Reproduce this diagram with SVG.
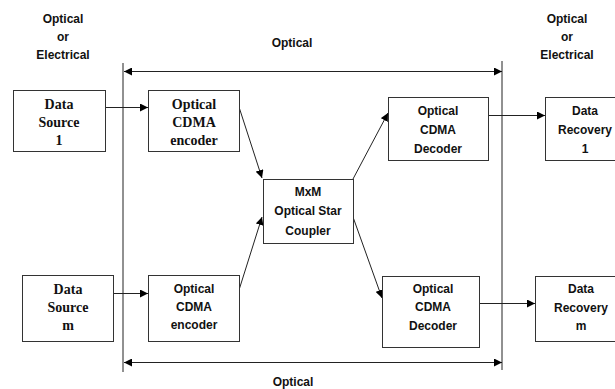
<svg xmlns="http://www.w3.org/2000/svg" width="615" height="389" viewBox="0 0 615 389">
<defs>
<marker id="ah" viewBox="0 0 10 10" refX="10" refY="5" markerWidth="8" markerHeight="8" markerUnits="userSpaceOnUse" orient="auto-start-reverse">
<path d="M0,0 L10,5 L0,10 z" fill="#000"/>
</marker>
<style>
.box{fill:#fff;stroke:#333;stroke-width:1}
.ln{fill:none;stroke:#222;stroke-width:1}
.ar{fill:none;stroke:#222;stroke-width:1;marker-end:url(#ah)}
.s{font-family:"Liberation Sans",Arial,sans-serif;font-weight:bold;font-size:12px;fill:#111;text-anchor:middle}
.r{font-family:"Liberation Serif","Times New Roman",serif;font-weight:bold;font-size:14px;fill:#111;text-anchor:middle}
</style>
</defs>
<rect width="615" height="389" fill="#fff"/>
<g id="labels">
<text class="s" x="63" y="23">Optical</text>
<text class="s" x="63" y="41">or</text>
<text class="s" x="63" y="59">Electrical</text>
<text class="s" x="567" y="23">Optical</text>
<text class="s" x="567" y="41">or</text>
<text class="s" x="567" y="59">Electrical</text>
<text class="s" x="292" y="47">Optical</text>
<text class="s" x="293" y="386">Optical</text>
</g>
<g id="connectors">
<line class="ln" x1="123" y1="63" x2="123" y2="372"/>
<line class="ln" x1="502" y1="61" x2="502" y2="370"/>
<line class="ar" x1="300" y1="71.5" x2="124" y2="71.5"/>
<line class="ar" x1="300" y1="71.5" x2="502" y2="71.5"/>
<line class="ar" x1="300" y1="362.5" x2="124" y2="362.5"/>
<line class="ar" x1="300" y1="362.5" x2="502" y2="362.5"/>
<line class="ar" x1="105" y1="107.5" x2="148" y2="107.5"/>
<line class="ar" x1="113" y1="293.5" x2="148" y2="293.5"/>
<line class="ar" x1="488" y1="115.5" x2="545" y2="115.5"/>
<line class="ar" x1="479" y1="303.5" x2="535" y2="303.5"/>
<line class="ar" x1="239" y1="107" x2="262" y2="178"/>
<line class="ar" x1="239" y1="290" x2="262" y2="217"/>
<line class="ar" x1="353" y1="179" x2="388" y2="113"/>
<line class="ar" x1="353" y1="217" x2="382" y2="298"/>
</g>
<g id="src1">
<rect class="box" x="13.5" y="90.5" width="92" height="61"/>
<text class="r" x="59" y="109">Data</text>
<text class="r" x="59" y="127">Source</text>
<text class="r" x="59" y="145">1</text>
</g>
<g id="enc1">
<rect class="box" x="148.5" y="90.5" width="91" height="61"/>
<text class="r" x="194" y="109">Optical</text>
<text class="r" x="194" y="127">CDMA</text>
<text class="r" x="194" y="145">encoder</text>
</g>
<g id="srcm">
<rect class="box" x="22.5" y="275.5" width="91" height="66"/>
<text class="r" x="68" y="294">Data</text>
<text class="r" x="68" y="312">Source</text>
<text class="r" x="68" y="330">m</text>
</g>
<g id="encm">
<rect class="box" x="148.5" y="275.5" width="91" height="66"/>
<text class="s" x="194" y="293">Optical</text>
<text class="s" x="194" y="311">CDMA</text>
<text class="s" x="194" y="329">encoder</text>
</g>
<g id="star">
<rect class="box" x="263.5" y="179.5" width="90" height="64"/>
<text class="s" x="308" y="196">MxM</text>
<text class="s" x="308" y="215">Optical Star</text>
<text class="s" x="308" y="235">Coupler</text>
</g>
<g id="dec1">
<rect class="box" x="388.5" y="97.5" width="100" height="63"/>
<text class="s" x="438" y="115">Optical</text>
<text class="s" x="438" y="134">CDMA</text>
<text class="s" x="438" y="153">Decoder</text>
</g>
<g id="decm">
<rect class="box" x="382.5" y="276.5" width="97" height="71"/>
<text class="s" x="433" y="293">Optical</text>
<text class="s" x="433" y="311">CDMA</text>
<text class="s" x="433" y="330">Decoder</text>
</g>
<g id="rec1">
<rect class="box" x="545.5" y="97.5" width="80" height="63"/>
<text class="s" x="585" y="115">Data</text>
<text class="s" x="585" y="134">Recovery</text>
<text class="s" x="585" y="153">1</text>
</g>
<g id="recm">
<rect class="box" x="535.5" y="276.5" width="90" height="65"/>
<text class="s" x="581" y="293">Data</text>
<text class="s" x="581" y="312">Recovery</text>
<text class="s" x="581" y="330">m</text>
</g>
</svg>
